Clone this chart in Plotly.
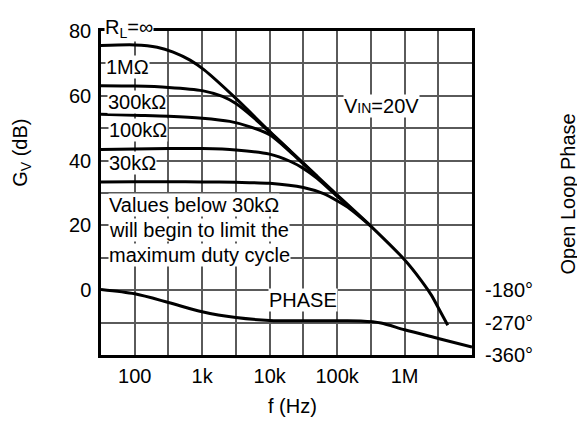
import plotly.graph_objects as go

# ---------------- data ----------------
# Gain curves: frequency in Hz, gain in dB
freq_inf = [31.6, 100, 215, 372, 661, 1070, 3160, 10000, 31600, 100000, 316000, 1000000, 1780000, 2510000, 3390000, 4370000]
gain_inf = [75.5, 75.7, 75.0, 73.5, 71.0, 68.0, 59.2, 49.0, 39.2, 29.4, 19.8, 9.4, 2.9, -1.6, -6.6, -10.8]

freq_1m = [31.6, 100, 316, 1000, 2000, 3160, 5620, 10000, 20000]
gain_1m = [63.1, 63.0, 62.6, 61.6, 59.8, 57.6, 53.5, 48.8, 43.0]

freq_300k = [31.6, 100, 316, 1000, 2570, 5010, 10000, 20000, 31600, 50100]
gain_300k = [54.3, 54.0, 53.7, 53.1, 52.1, 50.5, 48.0, 42.8, 39.0, 35.2]

freq_100k = [31.6, 100, 316, 1000, 3160, 10000, 20000, 31600, 50100, 100000, 158000]
gain_100k = [43.4, 43.6, 43.7, 43.7, 43.3, 42.0, 39.8, 37.6, 34.6, 29.0, 25.4]

freq_30k = [31.6, 100, 316, 1000, 3160, 10000, 31600, 63100, 100000, 158000, 316000]
gain_30k = [33.4, 33.5, 33.5, 33.4, 33.3, 33.0, 31.7, 29.8, 27.6, 25.0, 19.8]

# Open loop phase: frequency in Hz, phase in degrees
freq_phase = [31.6, 100, 316, 1000, 3160, 10000, 31600, 100000, 224000, 447000, 1000000, 3160000, 10000000]
phase_deg = [-178, -190, -214, -240, -256, -264, -265, -265, -265.5, -271, -290, -314, -338]

# Axis ticks
x_tick_hz = [100, 1000, 10000, 100000, 1000000]
x_tick_text = ["100", "1k", "10k", "100k", "1M"]
x_grid_hz = [31.62, 316.2, 3162, 31620, 316200, 3162000, 10000000]
y_tick_db = [0, 20, 40, 60, 80]
y_tick_text = ["0", "20", "40", "60", "80"]
phase_tick_deg = [-180, -270, -360]
phase_tick_text = ["-180°", "-270°", "-360°"]

# Curve labels
curve_labels = ["R<sub>L</sub>=∞", "1MΩ", "300kΩ", "100kΩ", "30kΩ"]
note_lines = ["Values below 30kΩ", "will begin to limit the", "maximum duty cycle"]

# ---------------- figure ----------------
FONT = "Liberation Sans, Arial, sans-serif"
FS = 20
fig = go.Figure()

line_style = dict(color="black", width=3, shape="spline", smoothing=0.8)
for fx, gy in [(freq_inf, gain_inf), (freq_1m, gain_1m), (freq_300k, gain_300k),
               (freq_100k, gain_100k), (freq_30k, gain_30k)]:
    fig.add_trace(go.Scatter(x=fx, y=gy, mode="lines", line=line_style,
                             showlegend=False, hoverinfo="skip"))

fig.add_trace(go.Scatter(x=freq_phase, y=phase_deg, mode="lines", line=line_style,
                         yaxis="y2", showlegend=False, hoverinfo="skip"))

grid = "#5a5a5a"
# page body adds an 8px margin: the figure is sized so that the plot sits at the
# reference position inside the 585x435 window
fig.update_layout(
    width=577, height=427, autosize=False,
    margin=dict(l=93, r=113, t=12, b=80, pad=0),
    paper_bgcolor="white", plot_bgcolor="white",
    font=dict(family=FONT, size=FS, color="black"),
    xaxis=dict(type="log", range=[1.5, 7], tickmode="array",
               tickvals=x_tick_hz, ticktext=x_tick_text,
               showgrid=True, gridcolor=grid, gridwidth=1.5,
               minor=dict(tickmode="array", tickvals=x_grid_hz, showgrid=True,
                          gridcolor=grid, gridwidth=1.5, ticks=""),
               showline=True, linecolor="black", linewidth=2.5, mirror=True,
               ticks="", zeroline=False, ticklabelstandoff=1,
               tickfont=dict(family=FONT, size=FS, color="black")),
    yaxis=dict(range=[-20, 80], tickmode="array", tickvals=y_tick_db, ticktext=y_tick_text,
               showgrid=True, gridcolor=grid, gridwidth=1.5,
               minor=dict(dtick=10, tick0=0, showgrid=True, gridcolor=grid,
                          gridwidth=1.5, ticks=""),
               showline=True, linecolor="black", linewidth=2.5, mirror=True,
               ticks="", zeroline=False, ticklabelstandoff=3,
               tickfont=dict(family=FONT, size=FS, color="black")),
    yaxis2=dict(overlaying="y", side="right", range=[-360, 540],
                tickvals=phase_tick_deg, ticktext=phase_tick_text,
                showgrid=False, showline=False, zeroline=False, ticks="",
                ticklabelstandoff=12,
                tickfont=dict(family=FONT, size=FS, color="black")),
)

ann = dict(showarrow=False, xanchor="left", yanchor="middle", bgcolor="white",
           borderpad=0, font=dict(family=FONT, size=FS, color="black"))

# curve labels (x in log10(Hz), y in dB); top label is pinned to the frame and shifted up
label_pos = [(1.545, 80.0), (1.559, 69.0), (1.589, 58.1), (1.604, 49.6), (1.604, 39.2)]
label_shift = [3, 0, 0, 0, 0]
for txt, (lx, ly), ys in zip(curve_labels, label_pos, label_shift):
    fig.add_annotation(x=lx, y=ly, yshift=ys, text=txt, **ann)

fig.add_annotation(x=5.088, y=56.7,
                   text="V<span style='font-size:14px'>IN</span>=20V", **ann)

for txt, ly in zip(note_lines, [26.3, 18.5, 10.8]):
    fig.add_annotation(x=1.604, y=ly, text=txt, **ann)

fig.add_annotation(x=3.976, y=-3.1, text="PHASE", **ann)

# axis titles
fig.add_annotation(xref="paper", yref="paper", x=-0.213, y=0.624, text="G<sub>V</sub> (dB)",
                   textangle=-90, showarrow=False, xanchor="center", yanchor="middle",
                   font=dict(family=FONT, size=FS, color="black"))
fig.add_annotation(xref="paper", yref="paper", x=1.259, y=0.4955, text="Open Loop Phase",
                   textangle=-90, showarrow=False, xanchor="center", yanchor="middle",
                   font=dict(family=FONT, size=FS, color="black"))
fig.add_annotation(xref="paper", yref="paper", x=0.515, y=-0.158, text="f (Hz)",
                   showarrow=False, xanchor="center", yanchor="middle",
                   font=dict(family=FONT, size=FS, color="black"))

fig.write_html("out.html")
